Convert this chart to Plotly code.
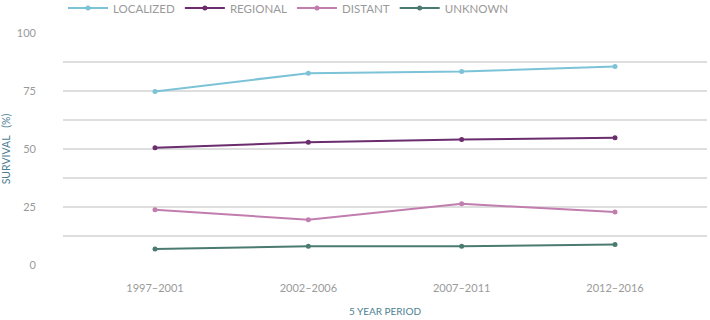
import plotly.graph_objects as go

periods = ["1997–2001", "2002–2006", "2007–2011", "2012–2016"]
localized = [74.8, 82.7, 83.4, 85.6]
regional = [50.5, 52.9, 54.1, 54.8]
distant = [23.8, 19.5, 26.4, 22.8]
unknown = [6.9, 8.1, 8.1, 8.8]

series_names = ["LOCALIZED", "REGIONAL", "DISTANT", "UNKNOWN"]
series_values = [localized, regional, distant, unknown]
colors = ["#7cc3d8", "#6b2d6d", "#c27daf", "#4b7b70"]

FONT = "Lato"
GRAY = "#9a9a9a"
TITLE_C = "#4d7f93"

fig = go.Figure()
for name, vals, c in zip(series_names, series_values, colors):
    fig.add_trace(go.Scatter(
        x=periods, y=vals, name=name, mode="lines+markers",
        line=dict(color=c, width=2), marker=dict(color=c, size=5),
    ))

fig.update_layout(
    width=710, height=320,
    margin=dict(l=63, r=3, t=33, b=55, autoexpand=False),
    paper_bgcolor="white", plot_bgcolor="white",
    font=dict(family=FONT, color=GRAY, size=12),
    legend=dict(orientation="h", x=0, xanchor="left", y=0.975, yanchor="middle",
                yref="container",
                font=dict(size=11.5, color=GRAY, family=FONT),
                itemwidth=40, tracegroupgap=0),
    showlegend=True,
)
fig.update_xaxes(
    type="category", range=[-0.6, 3.6], showgrid=False, zeroline=False,
    showline=False, ticks="", tickfont=dict(size=11, color=GRAY),
    automargin=False, ticklabelstandoff=15,
    title=dict(text="5 YEAR PERIOD", font=dict(size=10, color=TITLE_C), standoff=14),
)
fig.update_yaxes(
    range=[0, 100], tickvals=[0, 25, 50, 75, 100], showgrid=True,
    gridcolor="#dedede", gridwidth=1.5, zeroline=False, showline=False,
    minor=dict(dtick=12.5, tick0=0, showgrid=True, gridcolor="#dedede", gridwidth=1.5),
    tickfont=dict(size=11, color=GRAY), ticklabelstandoff=26, automargin=False,
    title=dict(text="SURVIVAL\u00a0\u00a0\u00a0(%)", font=dict(size=10.5, color=TITLE_C), standoff=10),
)

fig.write_html("out.html", config={"displayModeBar": False},
               post_script="document.body.style.margin='0';")
